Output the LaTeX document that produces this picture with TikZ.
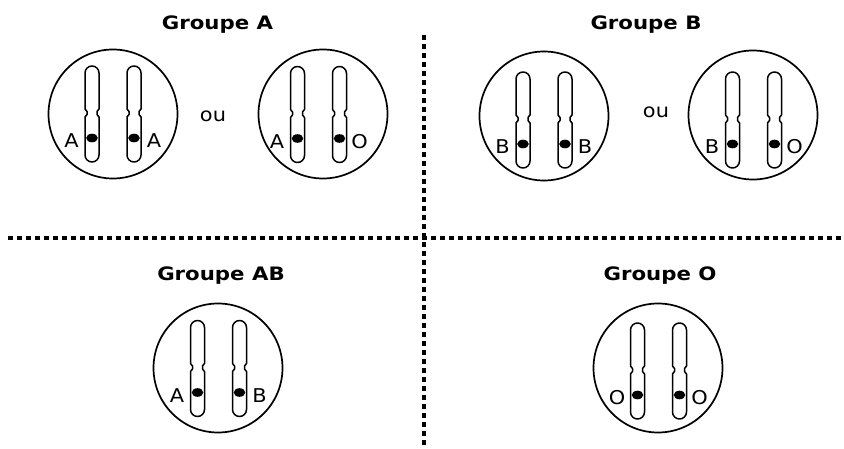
\documentclass[tikz,border=0pt]{standalone}
\usepackage{fontspec}
\newfontfamily\titlefont[FakeStretch=1.15]{DejaVu Sans}
\newfontfamily\labelfont[FakeStretch=1.1]{DejaVu Sans}

\tikzset{
  cell/.style={circle, draw, line width=1.7pt, minimum size=129pt, inner sep=0pt},
  chromo/.style={draw, line width=1.5pt, line join=round},
  centromere/.style={fill=black},
  allele/.style={font=\labelfont\fontsize{19}{19}\selectfont, inner sep=0pt},
  grouptitle/.style={font=\titlefont\bfseries\fontsize{18.5}{20}\selectfont, inner sep=0pt, anchor=base},
  divider/.style={dash pattern=on 5pt off 4pt, line width=3.2pt},
}

% one chromosome: x position, y of the pair's middle
\newcommand\onechromo[2]{%
  \draw[chromo] (#1-7,#2-41) arc (180:360:7)
     -- (#1+7,#2-5) -- (#1+5,#2-2.5) -- (#1+5,#2+0.5) -- (#1+7,#2+3)
     -- (#1+7,#2+41) arc (0:180:7)
     -- (#1-7,#2+3) -- (#1-5,#2+0.5) -- (#1-5,#2-2.5) -- (#1-7,#2-5) -- cycle;
  \fill[centromere] (#1,#2+24) ellipse [x radius=5.8, y radius=4.3];
}

% a homologous pair with its two alleles: x, y, left allele, right allele, name
\newcommand\chrompair[5]{%
  \onechromo{#1-21}{#2}
  \onechromo{#1+21}{#2}
  \node[allele] (#5-l) at (#1-41.5,#2+27) {#3};
  \node[allele] (#5-r) at (#1+41,#2+27) {#4};
}

\begin{document}
\begin{tikzpicture}[x=1pt, y=-1pt]
  \useasboundingbox (0,0) rectangle (844,449);
  \fill[white] (0,0) rectangle (844,449);

  % dividers between the four blood groups
  \coordinate (vtop) at (424,35);
  \coordinate (vbot) at (424,449);
  \coordinate (hleft) at (8,238);
  \coordinate (hright) at (844,238);
  \draw[divider] (vtop) -- (vbot);
  \draw[divider] (hleft) -- (hright);

  % titles
  \node[grouptitle] (tA)  at (217.5,30) {Groupe A};
  \node[grouptitle] (tB)  at (646,30)   {Groupe B};
  \node[grouptitle] (tAB) at (221,280)  {Groupe AB};
  \node[grouptitle] (tO)  at (660,280)  {Groupe O};

  % cells
  \node[cell] (cA1) at (113,114) {};
  \node[cell] (cA2) at (323,114) {};
  \node[cell] (cB1) at (544,116) {};
  \node[cell] (cB2) at (753,115) {};
  \node[cell] (cAB) at (218,368) {};
  \node[cell] (cO)  at (658,368) {};

  \node[allele, anchor=base] (ouA) at (213,122) {ou};
  \node[allele, anchor=base] (ouB) at (656,118) {ou};

  % chromosome pairs
  \chrompair{113}{114}{A}{A}{gA1}
  \chrompair{318.5}{114.5}{A}{O}{gA2}
  \chrompair{544}{120}{B}{B}{gB1}
  \chrompair{753.5}{120}{B}{O}{gB2}
  \chrompair{218.5}{368.5}{A}{B}{gAB}
  \chrompair{658.5}{371}{O}{O}{gO}
\end{tikzpicture}
\end{document}
